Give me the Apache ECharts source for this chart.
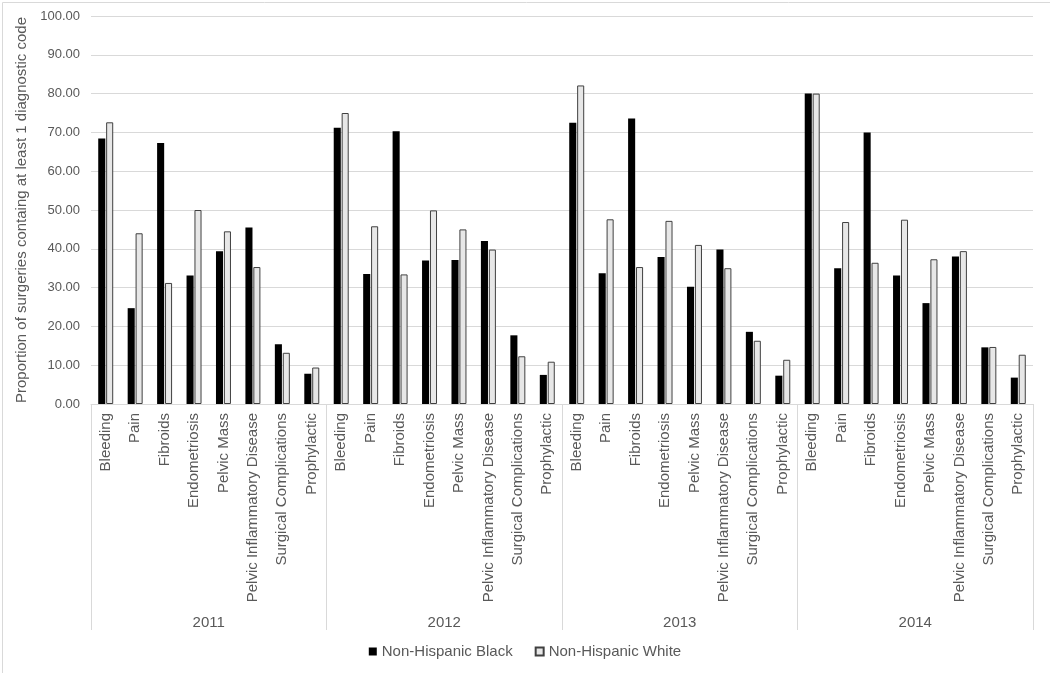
<!DOCTYPE html>
<html><head><meta charset="utf-8">
<script src="https://cdn.jsdelivr.net/npm/echarts@6/dist/echarts.min.js"></script>
<style>html,body{margin:0;padding:0;background:#fff}#c{width:1050px;height:673px}</style>
</head><body><div id="c"></div>
<script>
const years = ['2011','2012','2013','2014'];
const diagnoses = ['Bleeding','Pain','Fibroids','Endometriosis','Pelvic Mass','Pelvic Inflammatory Disease','Surgical Complications','Prophylactic'];
const black2011 = [68.4, 24.7, 67.3, 33.1, 39.4, 45.5, 15.4, 7.8];
const white2011 = [72.6, 44.0, 31.2, 50.0, 44.5, 35.3, 13.2, 9.4];
const black2012 = [71.2, 33.5, 70.3, 37.0, 37.1, 42.0, 17.7, 7.5];
const white2012 = [75.0, 45.8, 33.4, 49.9, 45.0, 39.8, 12.3, 10.9];
const black2013 = [72.5, 33.7, 73.6, 37.9, 30.2, 39.8, 18.6, 7.3];
const white2013 = [82.1, 47.6, 35.3, 47.2, 41.0, 35.0, 16.3, 11.4];
const black2014 = [80.0, 35.0, 70.0, 33.1, 26.0, 38.0, 14.6, 6.8];
const white2014 = [80.0, 46.9, 36.4, 47.5, 37.3, 39.4, 14.7, 12.7];
const yTicks = [0,10,20,30,40,50,60,70,80,90,100];

const cats = [];
years.forEach(y => diagnoses.forEach(d => cats.push(y + '|' + d)));
const blackAll = [].concat(black2011, black2012, black2013, black2014);
const whiteAll = [].concat(white2011, white2012, white2013, white2014);

const font = '"Liberation Sans", Arial, sans-serif';
const chart = echarts.init(document.getElementById('c'));
chart.setOption({
  animation: false,
  textStyle: {fontFamily: font},
  grid: {left: 91, right: 17, top: 16, bottom: 269, containLabel: false},
  legend: {
    bottom: 9, left: 'center', icon: 'rect',
    itemWidth: 8, itemHeight: 8, itemGap: 22,
    textStyle: {fontSize: 15, color: '#595959', fontFamily: font},
    data: ['Non-Hispanic Black', 'Non-Hispanic White']
  },
  xAxis: [{
    type: 'category', data: cats, gridIndex: 0,
    axisLine: {lineStyle: {color: '#d9d9d9'}},
    axisTick: {show: false},
    axisLabel: {
      rotate: 90, interval: 0, margin: 9, fontSize: 15, color: '#595959', fontFamily: font,
      formatter: v => v.split('|')[1]
    }
  }, {
    type: 'category', data: years, gridIndex: 0, position: 'bottom',
    axisLine: {show: false},
    axisTick: {show: true, length: 226, lineStyle: {color: '#d9d9d9'}},
    axisLabel: {margin: 211, fontSize: 15, color: '#595959', fontFamily: font}
  }],
  yAxis: {
    type: 'value', min: 0, max: 100, interval: 10,
    name: 'Proportion of surgeries containg at least 1 diagnostic code',
    nameLocation: 'middle', nameGap: 62,
    nameTextStyle: {fontSize: 15, color: '#595959', fontFamily: font},
    axisLine: {show: false}, axisTick: {show: false},
    splitLine: {lineStyle: {color: '#d9d9d9'}},
    axisLabel: {fontSize: 13, color: '#595959', margin: 11, formatter: v => v.toFixed(2)}
  },
  series: [{
    name: 'Non-Hispanic Black', type: 'bar', data: blackAll,
    barWidth: '24%', barGap: '12%',
    itemStyle: {color: '#000000'}
  }, {
    name: 'Non-Hispanic White', type: 'bar', data: whiteAll,
    barWidth: '24%', barGap: '12%',
    itemStyle: {color: '#e7e7e7', borderColor: '#404040', borderWidth: 1}
  }],
  graphic: [{
    type: 'rect', left: 0, top: 0, silent: true,
    shape: {x: 0.5, y: 0.5, width: 1048, height: 671},
    style: {fill: 'none', stroke: '#d9d9d9', lineWidth: 1}
  }]
});
</script></body></html>
